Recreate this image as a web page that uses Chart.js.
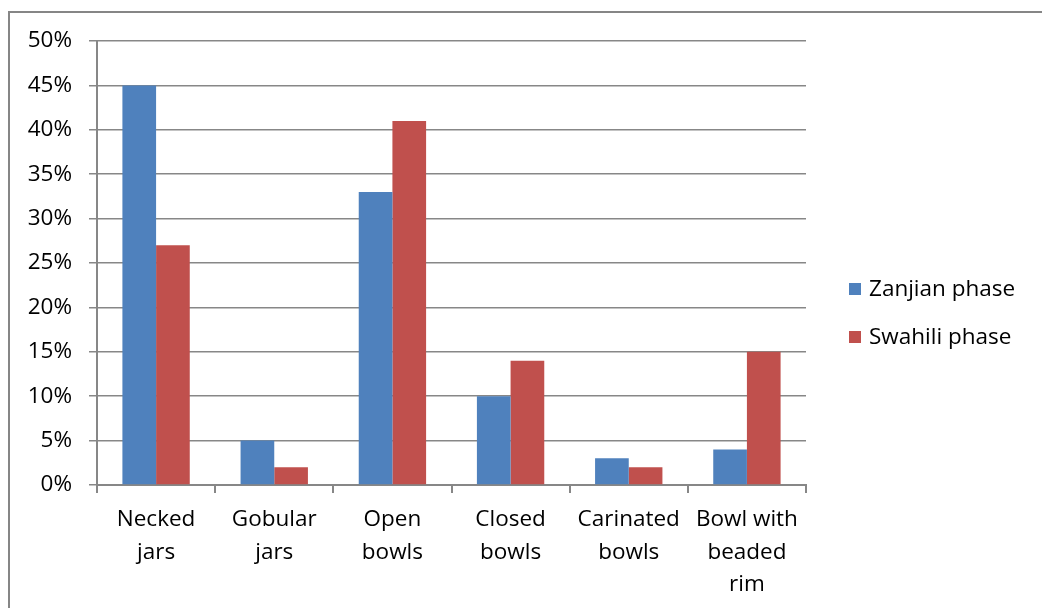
<!DOCTYPE html>
<html lang="en">
<head>
    <meta charset="UTF-8">
    <script src="https://cdn.jsdelivr.net/npm/chart.js"></script>
    <style>
        body { margin: 0; background: #fff; overflow: hidden; }
        #frame {
            position: absolute; left: 8px; top: 11px;
            width: 2000px; height: 2000px;
            border-left: 2px solid #868686;
            border-top: 2px solid #868686;
        }
        #chartDiv { position: absolute; left: 0; top: 0; width: 1042px; height: 608px; }
    </style>
    <title>Vessel forms</title>
</head>
<body>
    <div id="frame"></div>
    <div id="chartDiv">
        <canvas id="vGraph" width="1042" height="608"></canvas>
    </div>
<script>
    var categories = [
        ["Necked", "jars"],
        ["Gobular", "jars"],
        ["Open", "bowls"],
        ["Closed", "bowls"],
        ["Carinated", "bowls"],
        ["Bowl with", "beaded", "rim"]
    ];
    var zanjian = [45, 5, 33, 10, 3, 4];
    var swahili = [27, 2, 41, 14, 2, 15];
    var seriesNames = ["Zanjian phase", "Swahili phase"];
    var yTicks = [0, 5, 10, 15, 20, 25, 30, 35, 40, 45, 50];

    var fontFam = "'Open Sans', 'Liberation Sans', sans-serif";
    var fontSize = 22.5;
    var gridCol = '#878787';

    // legend drawn beside the plot, from dataset labels/colours
    var sideLegend = {
        id: 'sideLegend',
        afterDraw(chart) {
            let c = chart.ctx;
            c.save();
            c.font = fontSize + 'px ' + fontFam;
            c.textBaseline = 'middle';
            c.textAlign = 'left';
            chart.data.datasets.forEach(function(ds, i) {
                let y = 289 + i * 48;
                c.fillStyle = ds.backgroundColor;
                c.fillRect(849, y - 6, 12, 12);
                c.fillStyle = '#000';
                c.fillText(ds.label, 869, y + 1);
            });
            c.restore();
        }
    };

    const ctx = document.getElementById('vGraph');

    var chart = new Chart(ctx, {
        type: 'bar',
        data: {
            labels: categories,
            datasets: [
                {
                    label: seriesNames[0],
                    data: zanjian,
                    backgroundColor: '#4F81BD',
                    categoryPercentage: 0.57,
                    barPercentage: 1.0
                },
                {
                    label: seriesNames[1],
                    data: swahili,
                    backgroundColor: '#C0504D',
                    categoryPercentage: 0.57,
                    barPercentage: 1.0
                }
            ]
        },
        options: {
            responsive: false,
            animation: false,
            layout: { padding: { top: 41, right: 236, left: 0, bottom: 0 } },
            plugins: {
                legend: { display: false },
                tooltip: { enabled: false }
            },
            scales: {
                x: {
                    afterFit: function(s) { s.height = 123; },
                    grid: { drawOnChartArea: false, drawTicks: true, tickLength: 8, color: gridCol, lineWidth: 2 },
                    border: { color: gridCol, width: 2 },
                    ticks: {
                        color: '#000',
                        padding: 11,
                        maxRotation: 0,
                        autoSkip: false,
                        font: { family: fontFam, size: fontSize, lineHeight: 1.43 }
                    }
                },
                y: {
                    min: 0,
                    max: 50,
                    afterFit: function(s) { s.width = 97; },
                    afterBuildTicks: function(s) { s.ticks = yTicks.map(v => ({ value: v })); },
                    grid: { color: gridCol, lineWidth: 1.5, tickLength: 8 },
                    border: { color: gridCol, width: 2 },
                    ticks: {
                        color: '#000',
                        padding: 17,
                        font: { family: fontFam, size: fontSize },
                        callback: v => v + '%'
                    }
                }
            }
        },
        plugins: [sideLegend]
    });
</script>
</body>
</html>
